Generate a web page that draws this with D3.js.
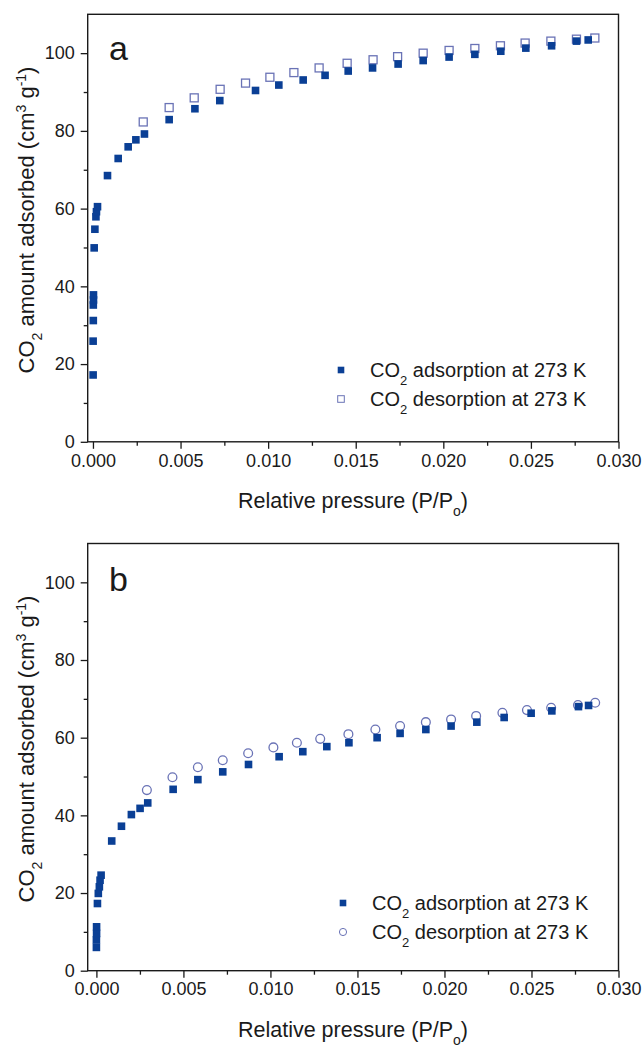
<!DOCTYPE html>
<html>
<head>
<meta charset="utf-8">
<script src="https://cdn.jsdelivr.net/npm/d3@7"></script>
<style>
  body { margin: 0; background: #fff; }
  svg text { font-family: "Liberation Sans", Arial, sans-serif; fill: #1a1a1a; }
</style>
</head>
<body>
<svg id="viz"></svg>
<script>
// panel a: adsorption (filled squares)
const adsA_x = [0.00001, 0.00001, 0.00002, 0.00002, 0.00003, 0.00003, 0.00007, 0.00011, 0.00017, 0.00020, 0.00026,
  0.00083, 0.00144, 0.00201, 0.00245, 0.00294, 0.00435, 0.00582, 0.00724, 0.00928, 0.01061, 0.01200, 0.01325,
  0.01457, 0.01596, 0.01742, 0.01885, 0.02033, 0.02180, 0.02328, 0.02471, 0.02618, 0.02760, 0.02827];
const adsA_y = [17.2, 25.9, 31.2, 35.2, 36.5, 37.8, 49.9, 54.7, 57.9, 59.2, 60.5,
  68.5, 72.9, 75.9, 77.7, 79.2, 82.9, 85.7, 87.8, 90.4, 91.8, 93.1, 94.3,
  95.4, 96.2, 97.2, 98.1, 99.0, 99.7, 100.5, 101.3, 101.9, 103.1, 103.4];
// panel a: desorption (open squares)
const desA_x = [0.02865, 0.02760, 0.02614, 0.02467, 0.02326, 0.02180, 0.02033, 0.01885, 0.01739, 0.01599,
  0.01451, 0.01291, 0.01147, 0.01010, 0.00871, 0.00726, 0.00578, 0.00435, 0.00287];
const desA_y = [103.9, 103.6, 103.1, 102.6, 101.9, 101.2, 100.7, 100.0, 99.1, 98.3,
  97.4, 96.2, 95.0, 93.8, 92.3, 90.7, 88.5, 86.0, 82.3];

// panel b: adsorption (filled squares)
const adsB_x = [0.00000, 0.00000, 0.00001, 0.00001, 0.00006, 0.00011, 0.00017, 0.00021, 0.00027,
  0.00088, 0.00144, 0.00201, 0.00251, 0.00295, 0.00441, 0.00583, 0.00726, 0.00874, 0.01050, 0.01186,
  0.01324, 0.01451, 0.01613, 0.01745, 0.01893, 0.02038, 0.02186, 0.02343, 0.02498, 0.02617, 0.02770, 0.02828];
const adsB_y = [6.0, 7.9, 9.6, 11.3, 17.3, 19.9, 21.6, 23.3, 24.6,
  33.4, 37.2, 40.2, 41.8, 43.2, 46.7, 49.2, 51.2, 53.1, 55.1, 56.4,
  57.7, 58.7, 60.0, 61.1, 62.1, 63.0, 64.0, 65.2, 66.3, 66.9, 68.0, 68.3];
// panel b: desorption (open circles)
const desB_x = [0.02866, 0.02767, 0.02613, 0.02474, 0.02333, 0.02182, 0.02038, 0.01893, 0.01745, 0.01603,
  0.01448, 0.01286, 0.01152, 0.01017, 0.00872, 0.00726, 0.00583, 0.00437, 0.00290];
const desB_y = [69.0, 68.4, 67.7, 67.1, 66.4, 65.6, 64.7, 64.0, 63.0, 62.1,
  60.9, 59.7, 58.7, 57.5, 56.0, 54.2, 52.4, 49.8, 46.5];

const xTicks = [0, 0.005, 0.010, 0.015, 0.020, 0.025, 0.030];
const yTicks = [0, 20, 40, 60, 80, 100];
const legendLabels = ['adsorption at 273 K', 'desorption at 273 K'];

const W = 643, H = 1048;
const fillBlue = '#0a3f95';
const openBlue = '#6a73b6';

const svg = d3.select('#viz').attr('width', W).attr('height', H);
svg.append('rect').attr('width', W).attr('height', H).attr('fill', '#fff');

const panels = [
  { letter: 'a', top: 14.3, bottom: 441.8, xMin: -0.0003, ads: [adsA_x, adsA_y], des: [desA_x, desA_y],
    openShape: 'square', titleY: 508, yTitleY: 220, letterY: 60, legendX: 341, legendY: 370 },
  { letter: 'b', top: 543.5, bottom: 970.7, xMin: -0.0005, ads: [adsB_x, adsB_y], des: [desB_x, desB_y],
    openShape: 'circle', titleY: 1037, yTitleY: 749, letterY: 591, legendX: 343, legendY: 903 }
];

const left = 87.7, right = 618.5;

panels.forEach(p => {
  const x = d3.scaleLinear().domain([p.xMin, 0.030]).range([left, right]);
  const y = d3.scaleLinear().domain([0, 110]).range([p.bottom, p.top]);
  const g = svg.append('g');

  // frame
  g.append('rect')
    .attr('x', left).attr('y', p.top)
    .attr('width', right - left).attr('height', p.bottom - p.top)
    .attr('fill', 'none').attr('stroke', '#1a1a1a').attr('stroke-width', 1.4);

  // x axis
  const xAxis = g.append('g').attr('transform', `translate(0,${p.bottom})`)
    .call(d3.axisBottom(x).tickValues(xTicks).tickFormat(d3.format('.3f')).tickSize(7).tickPadding(5));
  const xMinor = g.append('g').attr('transform', `translate(0,${p.bottom})`)
    .call(d3.axisBottom(x).tickValues(d3.range(0.0025, 0.03, 0.005)).tickFormat('').tickSize(4));

  // y axis
  const yAxis = g.append('g').attr('transform', `translate(${left},0)`)
    .call(d3.axisLeft(y).tickValues(yTicks).tickSize(7).tickPadding(6));
  const yMinor = g.append('g').attr('transform', `translate(${left},0)`)
    .call(d3.axisLeft(y).tickValues([10, 30, 50, 70, 90]).tickFormat('').tickSize(4));

  [xAxis, xMinor, yAxis, yMinor].forEach(a => {
    a.select('.domain').remove();
    a.selectAll('line').attr('stroke', '#1a1a1a').attr('stroke-width', 1.3);
    a.selectAll('text').attr('font-size', 18).attr('font-family', '"Liberation Sans", Arial, sans-serif').attr('fill', '#1a1a1a');
  });

  // desorption markers (drawn first, adsorption overlaps)
  const des = d3.zip(p.des[0], p.des[1]);
  if (p.openShape === 'square') {
    g.append('g').selectAll('rect').data(des).join('rect')
      .attr('x', d => x(d[0]) - 4).attr('y', d => y(d[1]) - 4)
      .attr('width', 8).attr('height', 8)
      .attr('fill', '#fff').attr('stroke', openBlue).attr('stroke-width', 1.3);
  } else {
    g.append('g').selectAll('circle').data(des).join('circle')
      .attr('cx', d => x(d[0])).attr('cy', d => y(d[1])).attr('r', 4.4)
      .attr('fill', '#fff').attr('stroke', openBlue).attr('stroke-width', 1.3);
  }

  const ads = d3.zip(p.ads[0], p.ads[1]);
  g.append('g').selectAll('rect').data(ads).join('rect')
    .attr('x', d => x(d[0]) - 3.8).attr('y', d => y(d[1]) - 3.8)
    .attr('width', 7.6).attr('height', 7.6)
    .attr('fill', fillBlue);

  // panel letter
  g.append('text').attr('x', 109).attr('y', p.letterY)
    .attr('font-family', '"Open Sans", "DejaVu Sans", sans-serif')
    .attr('font-size', 34).attr('fill', '#222').text(p.letter);

  // x title
  const xt = g.append('text').attr('x', 353).attr('y', p.titleY)
    .attr('text-anchor', 'middle').attr('font-size', 21.5);
  xt.append('tspan').text('Relative pressure (P/P');
  xt.append('tspan').attr('baseline-shift', 'sub').attr('font-size', 14).text('o');
  xt.append('tspan').text(')');

  // y title
  const yt = g.append('text')
    .attr('transform', `translate(34,${p.yTitleY}) rotate(-90)`)
    .attr('text-anchor', 'middle').attr('font-size', 22);
  yt.append('tspan').text('CO');
  yt.append('tspan').attr('baseline-shift', 'sub').attr('font-size', 14).text('2');
  yt.append('tspan').text(' amount adsorbed (cm');
  yt.append('tspan').attr('baseline-shift', 'super').attr('font-size', 14).text('3');
  yt.append('tspan').text(' g');
  yt.append('tspan').attr('baseline-shift', 'super').attr('font-size', 14).text('-1');
  yt.append('tspan').text(')');

  // legend
  const lg = g.append('g').attr('transform', `translate(${p.legendX},${p.legendY})`);
  legendLabels.forEach((lab, i) => {
    const row = lg.append('g').attr('transform', `translate(0,${i * 29})`);
    if (i === 0) {
      row.append('rect').attr('x', -3.3).attr('y', -3.3).attr('width', 6.6).attr('height', 6.6).attr('fill', fillBlue);
    } else if (p.openShape === 'square') {
      row.append('rect').attr('x', -3.3).attr('y', -3.3).attr('width', 6.6).attr('height', 6.6)
        .attr('fill', '#fff').attr('stroke', openBlue).attr('stroke-width', 1);
    } else {
      row.append('circle').attr('r', 3.6).attr('fill', '#fff').attr('stroke', openBlue).attr('stroke-width', 1);
    }
    const t = row.append('text').attr('x', 29).attr('y', 7).attr('font-size', 20);
    t.append('tspan').text('CO');
    t.append('tspan').attr('baseline-shift', 'sub').attr('font-size', 13).text('2');
    t.append('tspan').text(' ' + lab);
  });
});
</script>
</body>
</html>
